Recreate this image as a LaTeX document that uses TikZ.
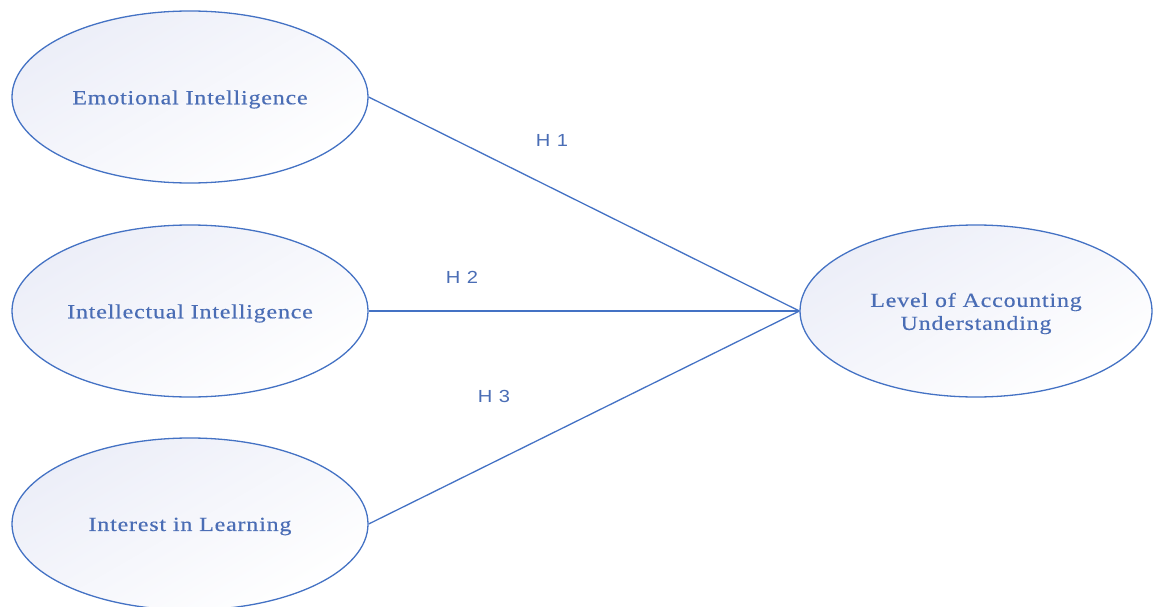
\documentclass[tikz,border=0pt]{standalone}
\usepackage{fontspec}
\setmainfont{Liberation Serif}[FakeStretch=1.2, LetterSpace=4, FakeBold=0.4]
\newfontfamily\hfont{Liberation Sans}[FakeStretch=1.15, LetterSpace=6]
\usetikzlibrary{shapes.geometric}
\definecolor{bl}{HTML}{4472C4}
\definecolor{tx}{HTML}{4A6DB5}
\definecolor{lav}{HTML}{ECEEF8}
\newcommand{\dn}[1]{\raisebox{-2.5pt}[\height][\depth]{#1}}
\tikzset{
  oval/.style={ellipse, draw=bl, line width=1.3pt, minimum width=356pt, minimum height=172pt,
    inner sep=0pt, top color=lav, bottom color=white, shading angle=30,
    font=\fontsize{20}{23}\selectfont, text=tx, align=center},
  link/.style={draw=bl, line width=1.3pt},
  hyp/.style={font=\hfont\fontsize{17.5}{20}\selectfont, text=tx}
}
\begin{document}
\begin{tikzpicture}[x=1pt,y=-1pt]
\useasboundingbox (0,0) rectangle (1153,607);
\node[oval] (ei) at (190,97) {\dn{Emotional Intelligence}};
\node[oval] (ii) at (190,311) {\dn{Intellectual Intelligence}};
\node[oval] (il) at (190,524) {\dn{Interest in Learning}};
\node[oval, minimum width=352pt] (la) at (976,311) {\dn{Level of Accounting}\\\dn{Understanding}};
\draw[link] (ei.east) -- (la.west);
\draw[link] (ii.east) -- (la.west);
\draw[link] (il.east) -- (la.west);
\node[hyp] (h1) at (552,140) {H 1};
\node[hyp] (h2) at (462,277) {H 2};
\node[hyp] (h3) at (494,396) {H 3};
\end{tikzpicture}
\end{document}
